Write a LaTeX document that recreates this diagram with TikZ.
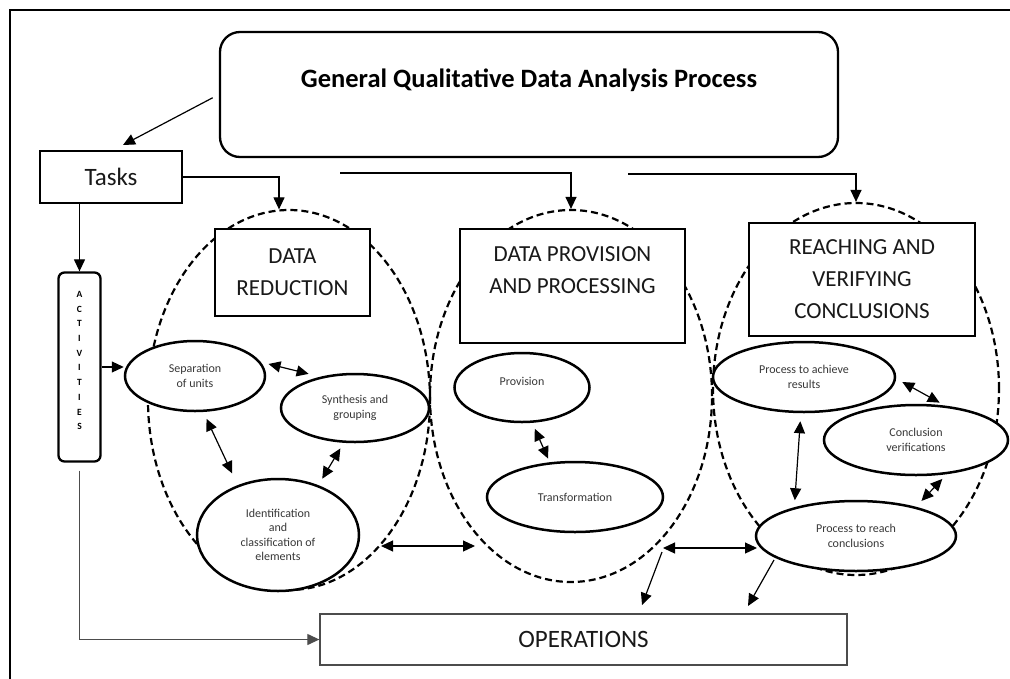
\documentclass[tikz,border=0pt]{standalone}
\usepackage{fontspec}
\setmainfont{Carlito}
\usetikzlibrary{arrows.meta,shapes.geometric,calc}
\begin{document}
\begin{tikzpicture}[x=1pt,y=-1pt,
  arr/.style={-{Triangle[length=12pt,width=11pt]}, line width=1.2pt},
  biarr/.style={{Triangle[length=12pt,width=11pt]}-{Triangle[length=12pt,width=11pt]}, line width=1.2pt},
  bigell/.style={draw, ellipse, dash pattern=on 7pt off 4pt, line width=2.2pt, inner sep=0pt},
  smell/.style={draw, ellipse, fill=white, line width=2.5pt, inner sep=0pt, align=center,
                font=\fontsize{12}{14.5}\selectfont, text=black!78},
  hbox/.style={draw, fill=white, line width=1.3pt, align=center, inner sep=0pt,
               font=\fontsize{23}{32}\selectfont, text=black!90}]
\useasboundingbox (0,0) rectangle (1010,678);

% outer frame (cropped)
\draw[line width=2.8pt] (10,680) -- (10,10) -- (1010,10);

% big dashed ellipses
\node[bigell, minimum width=282pt, minimum height=380pt] (de1) at (289,400) {};
\node[bigell, minimum width=282pt, minimum height=372pt] (de2) at (571,396) {};
\node[bigell, minimum width=286pt, minimum height=372pt] (de3) at (856,389) {};

% title
\node[draw, rounded corners=20pt, line width=2.3pt, fill=white, minimum width=618pt, minimum height=125pt] (title) at (529,94.5) {};
\node[font=\fontsize{26.5}{30}\selectfont\bfseries, text=black] (titletxt) at (529,80) {General Qualitative Data Analysis Process};

% tasks
\node[hbox, font=\fontsize{25}{30}\selectfont, minimum width=142pt, minimum height=52pt] (tasks) at (111,177) {Tasks};

% activities
\node[draw, rounded corners=6pt, line width=2.3pt, minimum width=42pt, minimum height=189pt] (act) at (79.5,367) {};
\node[font=\fontsize{9.5}{14.7}\selectfont\bfseries, align=center, inner sep=0pt] (acttxt) at (79.5,360.5)
  {A\\C\\T\\I\\V\\I\\T\\I\\E\\S};

% headline boxes
\node[hbox, minimum width=155pt, minimum height=87pt] (dr) at (292.5,272.5) {DATA\\REDUCTION};
\node[hbox, minimum width=225pt, minimum height=114pt] (dp) at (572.5,286) {DATA PROVISION\\AND PROCESSING\\\phantom{A}};
\node[hbox, minimum width=226pt, minimum height=113pt] (rv) at (862,279.5) {REACHING AND\\VERIFYING\\CONCLUSIONS};

% operations
\node[draw=black!70, fill=white, line width=1.3pt, minimum width=527pt, minimum height=51pt,
      font=\fontsize{25}{30}\selectfont, text=black!90] (ops) at (583.5,639.5) {OPERATIONS};

% small ellipses
\node[smell, minimum width=140pt, minimum height=70pt] (sep) at (195,376) {Separation\\of units};
\node[smell, minimum width=148pt, minimum height=68pt] (syn) at (355,408) {Synthesis and\\grouping};
\node[smell, minimum width=162pt, minimum height=112pt] (ident) at (278,535) {Identification\\and\\classification of\\elements};
\node[smell, minimum width=135pt, minimum height=69pt] (prov) at (522,387.5) {\smash{\raisebox{2pt}{Provision}}};
\node[smell, minimum width=176pt, minimum height=70pt] (trans) at (575,497) {Transformation};
\node[smell, minimum width=182pt, minimum height=70pt] (ach) at (804,377) {Process to achieve\\results};
\node[smell, minimum width=184pt, minimum height=70pt] (verif) at (916,440) {Conclusion\\verifications};
\node[smell, minimum width=200pt, minimum height=70pt] (reach) at (856,536) {Process to reach\\conclusions};

% free end points
\coordinate (c1) at (340,173);
\coordinate (c2) at (628,174);
\coordinate (tasktip) at (123,145);
\coordinate (h1a) at (381,546);
\coordinate (h1b) at (475,546);
\coordinate (h2a) at (663,548);
\coordinate (h2b) at (757,548);
\coordinate (o1a) at (662,552);
\coordinate (o1b) at (642,605);
\coordinate (o2a) at (774,560);
\coordinate (o2b) at (748,606);

% connectors from the top
\draw[arr, shorten <=7pt] (title.west) -- (tasktip);
\draw[arr] (tasks.east) -| (de1.93);
\draw[arr] (c1) -| (de2.north);
\draw[arr] (c2) -| (de3.north);
\draw[arr] (act.north |- tasks.south) -- (act.north);
\draw[arr] (act.east) -- (act.east -| sep.west);
\draw[arr, draw=black!70, shorten <=8pt] (act.south) |- (ops.west);

% two-way arrows
\draw[biarr, shorten <=8pt, shorten >=12pt] (sep.12) -- (syn.138);
\draw[biarr, shorten <=7.5pt, shorten >=13pt] (sep.-77) -- (ident.129);
\draw[biarr, shorten <=6.5pt, shorten >=7.5pt] (syn.-108) -- (ident.51);
\draw[biarr] (h1a) -- (h1b);
\draw[biarr, shorten <=6.5pt, shorten >=4pt] (prov.-74) -- (trans.126);
\draw[biarr] (h2a) -- (h2b);
\draw[biarr, shorten <=8pt, shorten >=7pt] (ach.-95) -- (reach.155);
\draw[biarr, shorten <=7pt, shorten >=6pt] (ach.-1) -- (verif.50);
\draw[biarr, shorten <=6.5pt, shorten >=8pt] (verif.-48) -- (reach.26);

% arrows to operations
\draw[arr] (o1a) -- (o1b);
\draw[arr] (o2a) -- (o2b);
\end{tikzpicture}
\end{document}
